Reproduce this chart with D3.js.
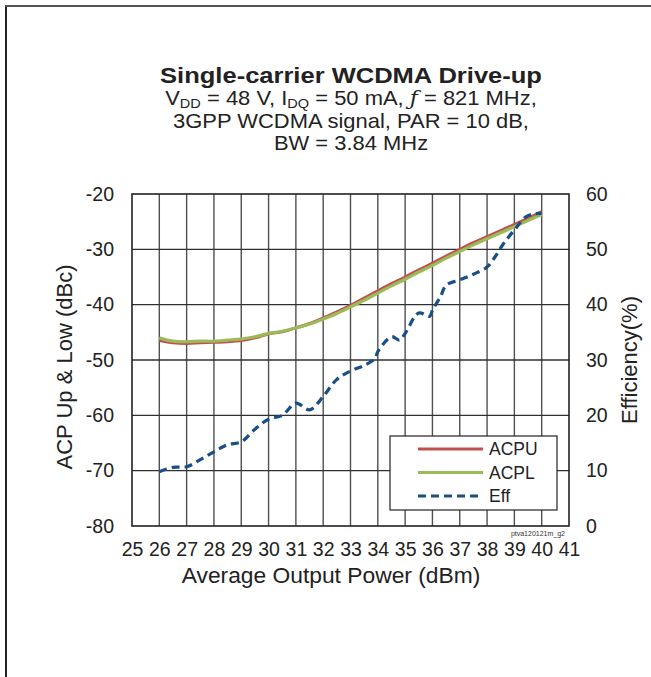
<!DOCTYPE html>
<html><head><meta charset="utf-8">
<script src="https://cdn.jsdelivr.net/npm/d3@7/dist/d3.min.js"></script>
<style>body{margin:0;background:#fff}svg{display:block;font-family:Arial,"Liberation Sans",sans-serif}</style>
</head><body>
<script>
const power = [26,26.5,27,27.5,28,28.5,29,29.5,30,30.5,31,31.5,32,32.5,33,33.5,34,34.5,35,35.5,36,36.5,37,37.5,38,38.5,39,39.5,40];
const acpu = [-46.5,-46.9,-47.0,-46.9,-46.8,-46.7,-46.5,-46.0,-45.3,-44.9,-44.2,-43.4,-42.4,-41.3,-40.1,-38.8,-37.5,-36.2,-35.0,-33.7,-32.5,-31.2,-30.0,-28.8,-27.7,-26.6,-25.5,-24.4,-23.2];
const acpl = [-46.0,-46.6,-46.7,-46.6,-46.6,-46.4,-46.2,-45.8,-45.2,-44.8,-44.2,-43.5,-42.6,-41.6,-40.4,-39.2,-37.9,-36.6,-35.4,-34.1,-32.9,-31.6,-30.4,-29.2,-28.1,-27.0,-25.9,-24.8,-23.7];
const effPower = [26,26.5,27,27.5,28,28.5,29,29.5,30,30.5,31,31.5,32,32.5,33,33.5,33.9,34,34.5,34.8,35,35.5,35.9,36,36.3,36.5,37,37.5,38,38.3,38.6,39,39.4,39.7,40];
const eff = [9.8,10.6,10.7,12.0,13.4,14.7,15.2,17.5,19.3,20.0,22.2,21.0,23.4,26.5,28.0,29.0,30.3,31.5,34.2,33.6,34.8,38.5,37.9,39.0,41.5,43.5,44.5,45.5,46.8,48.7,51.0,53.5,55.8,56.4,56.5];
const xTicks = d3.range(25,42,1);
const yLeftTicks = [-80,-70,-60,-50,-40,-30,-20];
const yRightTicks = [0,10,20,30,40,50,60];
const seriesNames = ["ACPU","ACPL","Eff"];

const W=651,H=677;
const svg=d3.select("body").append("svg").attr("width",W).attr("height",H);
const L=132,R=569,T=194,B=526;
const x=d3.scaleLinear().domain([25,41]).range([L,R]);
const yL=d3.scaleLinear().domain([-80,-20]).range([B,T]);
const yR=d3.scaleLinear().domain([0,60]).range([B,T]);

// outer frame
svg.append("line").attr("x1",6).attr("x2",6).attr("y1",5).attr("y2",H).attr("stroke","#222").attr("stroke-width",2);
svg.append("line").attr("x1",5).attr("x2",W).attr("y1",6).attr("y2",6).attr("stroke","#555").attr("stroke-width",2);

// titles (slightly wide lettering, as in the reference)
const tg=svg.append("g").attr("transform","translate(351,0) scale(1.12,1)");
tg.append("text").attr("x",0).attr("y",83).attr("text-anchor","middle").attr("font-size",22.8).attr("font-weight","bold").attr("fill","#222").text("Single-carrier WCDMA Drive-up");
const st=tg.append("text").attr("x",0).attr("y",105).attr("text-anchor","middle").attr("font-size",19.6).attr("fill","#222");
st.append("tspan").text("V");
st.append("tspan").attr("font-size",13).attr("dy",3.5).text("DD");
st.append("tspan").attr("dy",-3.5).text(" = 48 V, I");
st.append("tspan").attr("font-size",13).attr("dy",3.5).text("DQ");
st.append("tspan").attr("dy",-3.5).text(" = 50 mA, ");
st.append("tspan").attr("font-style","italic").attr("font-family","'DejaVu Serif',serif").text("ƒ");
st.append("tspan").text(" = 821 MHz,");
tg.append("text").attr("x",0).attr("y",128).attr("text-anchor","middle").attr("font-size",19.6).attr("fill","#222").text("3GPP WCDMA signal, PAR = 10 dB,");
tg.append("text").attr("x",0).attr("y",150).attr("text-anchor","middle").attr("font-size",19.6).attr("fill","#222").text("BW = 3.84 MHz");

// grid
const g=svg.append("g");
g.selectAll(".vx").data(xTicks.slice(1,-1)).enter().append("line")
 .attr("x1",d=>x(d)).attr("x2",d=>x(d)).attr("y1",T).attr("y2",B).attr("stroke","#505050").attr("stroke-width",1.4);
g.selectAll(".hy").data(yLeftTicks.slice(1,-1)).enter().append("line")
 .attr("x1",L).attr("x2",R).attr("y1",d=>yL(d)).attr("y2",d=>yL(d)).attr("stroke","#303030").attr("stroke-width",1.4);
g.append("rect").attr("x",L).attr("y",T).attr("width",R-L).attr("height",B-T).attr("fill","none").attr("stroke","#222").attr("stroke-width",1.6);

// axes (labels only)
const fmt=d=>String(d);
const axB=svg.append("g").attr("transform",`translate(0,${B})`).call(d3.axisBottom(x).tickValues(xTicks).tickSize(0).tickPadding(16).tickFormat(fmt));
const axL=svg.append("g").attr("transform",`translate(${L},0)`).call(d3.axisLeft(yL).tickValues(yLeftTicks).tickSize(0).tickPadding(18).tickFormat(fmt));
const axR=svg.append("g").attr("transform",`translate(${R},0)`).call(d3.axisRight(yR).tickValues(yRightTicks).tickSize(0).tickPadding(17).tickFormat(fmt));
[axB,axL,axR].forEach(a=>{a.select(".domain").remove();a.selectAll("text").attr("font-size",19.5).attr("fill","#222").attr("font-family","Arial,'Liberation Sans',sans-serif");});

svg.append("text").attr("x",331).attr("y",583).attr("text-anchor","middle").attr("font-size",22.8).attr("fill","#222").text("Average Output Power (dBm)");
svg.append("text").attr("transform",`translate(72,${(T+B)/2+7}) rotate(-90)`).attr("text-anchor","middle").attr("font-size",22).attr("fill","#222").text("ACP Up & Low (dBc)");
svg.append("text").attr("transform",`translate(637,${(T+B)/2}) rotate(-90)`).attr("text-anchor","middle").attr("font-size",22).attr("fill","#222").text("Efficiency(%)");
svg.append("text").attr("x",565).attr("y",536).attr("text-anchor","end").attr("font-size",7).attr("fill","#333").text("ptva120121m_g2");

// lines
const lineL=d3.line().x(d=>x(d[0])).y(d=>yL(d[1])).curve(d3.curveCatmullRom);
const lineR=d3.line().x(d=>x(d[0])).y(d=>yR(d[1])).curve(d3.curveCatmullRom);
const colors={ACPU:"#c0504d",ACPL:"#9bbb59",Eff:"#1a4f85"};
svg.append("path").datum(power.map((p,i)=>[p,acpu[i]])).attr("d",lineL).attr("fill","none").attr("stroke",colors.ACPU).attr("stroke-width",3);
svg.append("path").datum(power.map((p,i)=>[p,acpl[i]])).attr("d",lineL).attr("fill","none").attr("stroke",colors.ACPL).attr("stroke-width",3.2);
svg.append("path").datum(effPower.map((p,i)=>[p,eff[i]])).attr("d",lineR).attr("fill","none").attr("stroke",colors.Eff).attr("stroke-width",3.2).attr("stroke-dasharray","8,5");

// legend
const lg=svg.append("g");
lg.append("rect").attr("x",390).attr("y",436).attr("width",167).attr("height",74).attr("fill","#fff").attr("stroke","#222").attr("stroke-width",1.2);
seriesNames.forEach((n,i)=>{
  const yy=449+i*23.5;
  lg.append("line").attr("x1",418).attr("x2",483).attr("y1",yy).attr("y2",yy).attr("stroke",colors[n]).attr("stroke-width",3.2).attr("stroke-dasharray",n==="Eff"?"8,5":null);
  lg.append("text").attr("x",489).attr("y",yy+6).attr("font-size",17.5).attr("fill","#222").text(n);
});
</script>
</body></html>
